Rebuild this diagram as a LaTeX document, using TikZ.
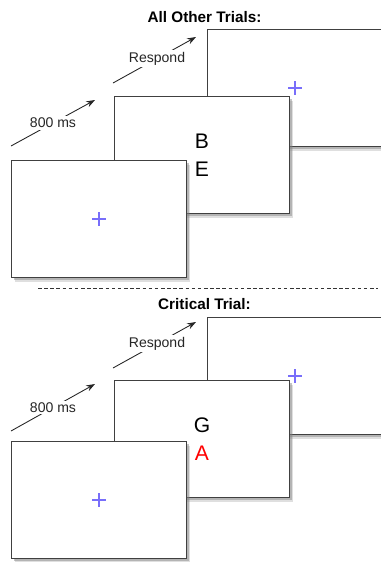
\documentclass[tikz,border=0pt]{standalone}
\usepackage{fontspec}
\setmainfont{Liberation Sans}
\usepackage{tikz}
\usetikzlibrary{shadows, arrows.meta}
\definecolor{fixblue}{RGB}{120,110,250}

\begin{document}
\begin{tikzpicture}[x=0.02cm, y=-0.02cm]

\tikzstyle{screen} = [rectangle, anchor=north west, minimum width=3.5cm, minimum height=2.34cm, inner sep=0pt, draw=black!75, line width=0.6pt, fill=white, align=center, font=\fontsize{12}{16}\selectfont, drop shadow={shadow xshift=2.2pt, shadow yshift=-2.4pt, opacity=0.25}, drop shadow={shadow xshift=1.2pt, shadow yshift=-1.4pt, opacity=0.45}]
\tikzstyle{title} = [font=\bfseries\fontsize{8.7}{10}\selectfont]
\tikzstyle{timing} = [fill=white, inner sep=1pt, font=\fontsize{8}{9.6}\selectfont]
\tikzstyle{arrow} = [line width=0.5pt, black!85, -{Stealth[length=5pt, width=3.6pt]}]
\tikzstyle{fixation} = [fixblue, line width=0.6pt]

\useasboundingbox (0,0) rectangle (381,562);

% all other trials
\node (t1) [title] at (204.5,17) {All Other Trials:};
\node (back1) [screen] at (207,29) {};
\node (mid1) [screen] at (114,96) {B\\E};
\node (front1) [screen] at (11,160) {};
\draw [fixation] (front1.center) +(-7,0) -- +(7,0) +(0,-7) -- +(0,7);
\draw [fixation] (back1.center) +(-7,0) -- +(7,0) +(0,-7) -- +(0,7);

\coordinate (w1s) at (11,146);
\coordinate (w1e) at (95,100);
\coordinate (r1s) at (113,83);
\coordinate (r1e) at (196,37);
\draw [arrow] (w1s) -- node[timing] {800 ms} (w1e);
\draw [arrow] (r1s) -- node[timing, pos=0.53] {Respond} (r1e);

\draw [black!80, line width=0.5pt, dash pattern=on 2pt off 1.5pt] (38,288) -- (378,288);

% critical trial
\node (t2) [title] at (204.5,304) {Critical Trial:};
\node (back2) [screen] at (207,317) {};
\node (mid2) [screen] at (114,380) {G\\\textcolor{red}{A}};
\node (front2) [screen] at (11,441) {};
\draw [fixation] (front2.center) +(-7,0) -- +(7,0) +(0,-7) -- +(0,7);
\draw [fixation] (back2.center) +(-7,0) -- +(7,0) +(0,-7) -- +(0,7);

\coordinate (w2s) at (11,431);
\coordinate (w2e) at (95,384);
\coordinate (r2s) at (113,368);
\coordinate (r2e) at (196,322);
\draw [arrow] (w2s) -- node[timing] {800 ms} (w2e);
\draw [arrow] (r2s) -- node[timing, pos=0.53] {Respond} (r2e);

\end{tikzpicture}
\end{document}
